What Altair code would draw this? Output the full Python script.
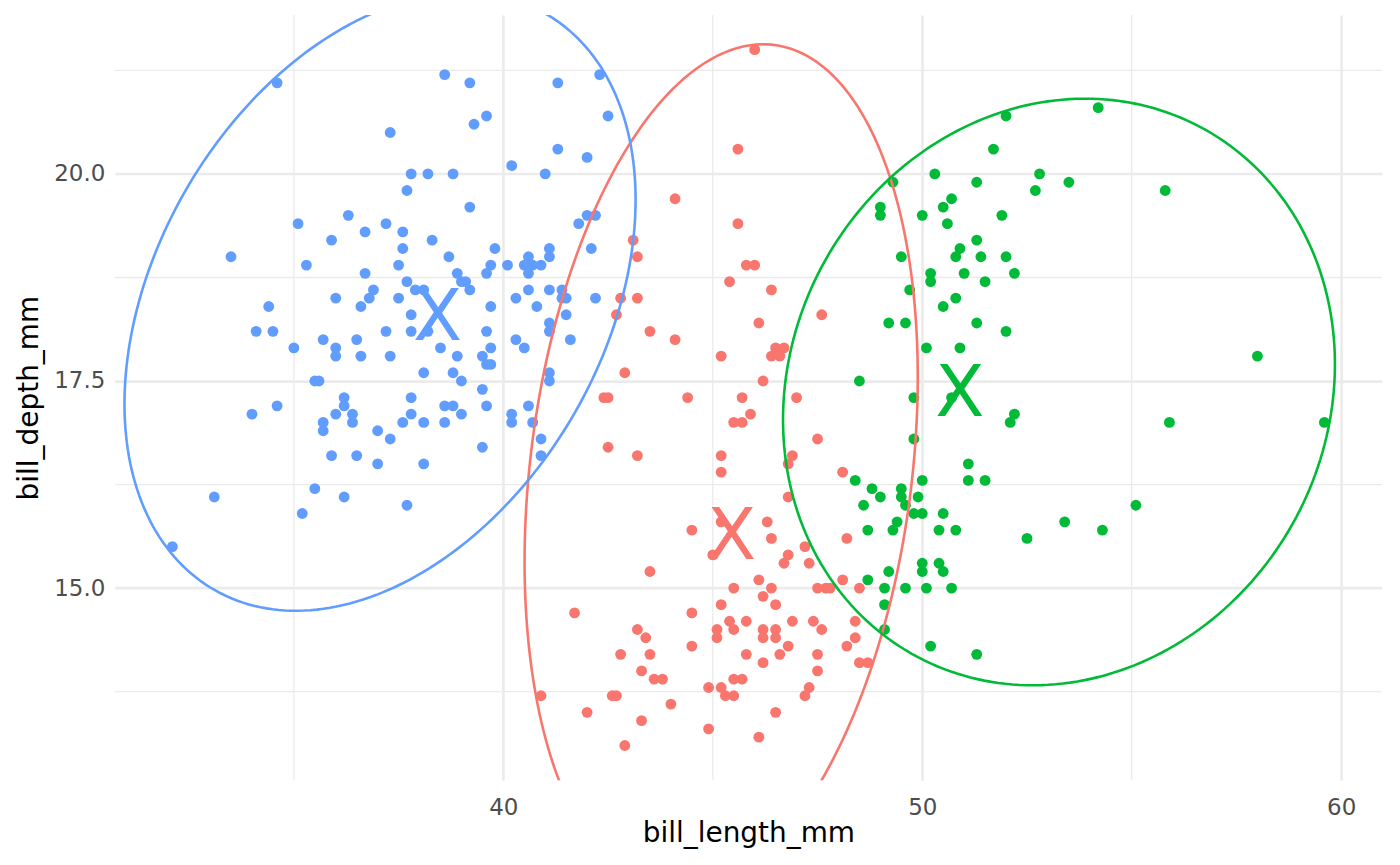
import numpy as np
import pandas as pd
import altair as alt

# ---- data (bill_length_mm, bill_depth_mm) ----
blue_x = [34.6, 37.3, 37.8, 38.2, 37.7, 35.1, 36.3, 37.2, 35.9, 36.7, 37.6, 37.6, 37.5, 38.3, 33.5, 35.3,
          38.6, 39.2, 41.3, 42.3, 39.6, 39.3, 42.5, 41.3, 42.0, 40.2, 38.8, 41.0, 39.2, 38.7, 39.8, 41.1, 41.1,
          40.6, 39.7, 40.1, 40.5, 40.7, 40.9, 41.8, 42.0, 42.2, 42.1,
          36.7, 37.7, 36.9, 36.8, 36.6, 36.0, 37.5, 37.9, 38.1, 37.8, 37.8, 38.2, 34.4, 34.1, 34.5, 35.0, 35.7,
          36.0, 36.0, 36.5, 36.6, 37.2, 37.3, 38.1, 35.5, 35.6, 34.6, 34.0, 36.2, 36.2, 36.0, 36.4, 36.4, 35.7,
          35.7, 37.0, 37.3, 37.8, 37.8, 37.6, 38.1, 35.9, 36.5, 37.0, 38.1, 35.5, 36.2, 33.1, 37.7, 35.2,
          32.1,
          38.9, 39.6, 40.6, 39.0, 39.1, 39.2, 39.7, 40.3, 40.6, 41.1, 40.8, 41.4, 41.4, 41.5, 41.5, 42.2, 41.1,
          41.1, 41.6, 39.6, 40.3, 40.5, 38.5, 38.9, 39.7, 39.5, 39.6, 39.7, 38.8, 39.0, 39.5, 41.1, 41.1, 38.6,
          38.8, 39.0, 38.6, 39.6, 40.2, 40.2, 40.6, 40.7, 40.9, 40.9, 39.5]
blue_y = [21.1, 20.5, 20.0, 20.0, 19.8, 19.4, 19.5, 19.4, 19.2, 19.3, 19.3, 19.1, 18.9, 19.2, 19.0, 18.9,
          21.2, 21.1, 21.1, 21.2, 20.7, 20.6, 20.7, 20.3, 20.2, 20.1, 20.0, 20.0, 19.6, 19.0, 19.1, 19.1, 19.0,
          19.0, 18.9, 18.9, 18.9, 18.9, 18.9, 19.4, 19.5, 19.5, 19.1,
          18.8, 18.7, 18.6, 18.5, 18.4, 18.5, 18.5, 18.6, 18.6, 18.3, 18.1, 18.1, 18.4, 18.1, 18.1, 17.9, 18.0,
          17.9, 17.8, 18.0, 17.8, 18.1, 17.8, 17.6, 17.5, 17.5, 17.2, 17.1, 17.3, 17.2, 17.1, 17.1, 17.0, 17.0,
          16.9, 16.9, 16.8, 17.3, 17.1, 17.0, 17.0, 16.6, 16.6, 16.5, 16.5, 16.2, 16.1, 16.1, 16.0, 15.9,
          15.5,
          18.8, 18.8, 18.8, 18.7, 18.7, 18.6, 18.4, 18.5, 18.6, 18.6, 18.4, 18.6, 18.5, 18.5, 18.3, 18.5, 18.2,
          18.1, 18.0, 18.1, 18.0, 17.9, 17.9, 17.8, 17.9, 17.8, 17.7, 17.7, 17.6, 17.5, 17.4, 17.6, 17.5, 17.2,
          17.2, 17.1, 17.0, 17.2, 17.1, 17.0, 17.2, 17.0, 16.8, 16.6, 16.7]

red_x = [46.0, 45.6, 44.1, 45.6, 43.1, 43.2, 45.8, 46.0,
         42.8, 43.2, 42.7, 43.5, 44.1, 45.4, 45.2, 42.9, 42.4, 42.5, 44.4, 45.7, 45.9, 45.5, 45.7, 42.5, 43.2,
         45.2, 45.2,
         46.1, 46.4, 47.6, 46.5, 46.7, 46.4, 46.6, 46.2, 47.0, 47.5, 46.9, 46.8, 48.1, 46.8, 46.3,
         44.5, 45.0, 45.2, 43.5, 45.5, 41.7, 44.5, 45.2, 45.4, 45.5, 45.8, 45.1, 45.1, 43.2, 43.4, 42.8, 43.5,
         44.5, 45.8, 43.3, 43.6, 43.8, 45.5, 45.7, 44.9, 45.2, 45.3, 45.5, 42.6, 42.7, 40.9, 44.0, 42.0, 43.3,
         44.9, 42.9,
         46.4, 48.2, 47.2, 46.8, 46.7, 47.3, 46.1, 48.1, 46.4, 47.5, 47.7, 47.8, 48.5, 46.2, 46.5, 46.9, 47.4,
         47.6, 48.4, 46.2, 46.5, 46.2, 46.5, 48.4, 48.2, 46.8, 46.6, 46.2, 47.5, 47.5, 48.5, 48.7, 47.3, 47.2,
         46.5, 46.1]
red_y = [21.5, 20.3, 19.7, 19.4, 19.2, 19.0, 18.9, 18.9,
         18.5, 18.5, 18.3, 18.1, 18.0, 18.7, 17.8, 17.6, 17.3, 17.3, 17.3, 17.3, 17.1, 17.0, 17.0, 16.7, 16.6,
         16.6, 16.4,
         18.2, 18.6, 18.3, 17.9, 17.9, 17.8, 17.8, 17.5, 17.3, 16.8, 16.6, 16.5, 16.4, 16.1, 15.8,
         15.7, 15.4, 15.8, 15.2, 15.0, 14.7, 14.7, 14.8, 14.6, 14.5, 14.6, 14.5, 14.4, 14.5, 14.4, 14.2, 14.2,
         14.3, 14.2, 14.0, 13.9, 13.9, 13.9, 13.9, 13.8, 13.8, 13.7, 13.7, 13.7, 13.7, 13.7, 13.6, 13.5, 13.4,
         13.3, 13.1,
         15.6, 15.6, 15.5, 15.4, 15.3, 15.3, 15.1, 15.1, 15.0, 15.0, 15.0, 15.0, 15.0, 14.9, 14.8, 14.6, 14.6,
         14.5, 14.6, 14.5, 14.5, 14.4, 14.4, 14.4, 14.3, 14.3, 14.2, 14.1, 14.2, 14.0, 14.1, 14.1, 13.8, 13.7,
         13.5, 13.2]

green_x = [52.0, 51.7, 49.3, 50.3, 51.3, 52.8, 52.7, 53.5, 50.7, 50.5, 49.0, 49.0, 50.0, 50.6, 51.9, 51.3,
           50.9, 50.8, 51.4, 52.0, 49.5,
           54.2, 55.8,
           50.2, 50.2, 51.0, 52.2, 51.5, 49.7, 50.8, 50.5, 49.2, 49.6, 51.3, 52.0, 50.1, 50.9, 48.5, 49.8, 50.7,
           52.2, 52.1, 49.8, 51.1, 51.1, 51.5, 48.4, 48.8, 49.0, 49.5, 49.5, 49.9, 50.0, 48.6, 49.6, 49.8, 50.0,
           50.5, 49.4, 53.4, 48.7, 49.3, 50.4, 50.8,
           58.0, 55.9, 59.6, 55.1, 54.3, 52.5,
           48.7, 49.2, 49.1, 49.6, 50.1, 50.7, 50.0, 50.0, 50.4, 50.5, 49.1, 49.1, 50.2, 51.3]
green_y = [20.7, 20.3, 19.9, 20.0, 19.9, 20.0, 19.8, 19.9, 19.7, 19.6, 19.6, 19.5, 19.5, 19.4, 19.5, 19.2,
           19.1, 19.0, 19.0, 19.0, 19.0,
           20.8, 19.8,
           18.8, 18.7, 18.8, 18.8, 18.7, 18.6, 18.5, 18.4, 18.2, 18.2, 18.2, 18.1, 17.9, 17.9, 17.5, 17.3, 17.3,
           17.1, 17.0, 16.8, 16.5, 16.3, 16.3, 16.3, 16.2, 16.1, 16.2, 16.1, 16.1, 16.3, 16.0, 16.0, 15.9, 15.9,
           15.9, 15.8, 15.8, 15.7, 15.7, 15.7, 15.7,
           17.8, 17.0, 17.0, 16.0, 15.7, 15.6,
           15.1, 15.2, 15.0, 15.0, 15.0, 15.0, 15.3, 15.2, 15.3, 15.2, 14.8, 14.5, 14.3, 14.2]

clusters = ["1", "2", "3"]
cluster_colors = ["#F8766D", "#00BA38", "#619CFF"]

# k-means centres
centre_cluster = ["1", "2", "3"]
centre_x = [45.45, 50.90, 38.43]
centre_y = [15.62, 17.34, 18.26]

x_ticks = [40, 50, 60]
y_ticks = [15.0, 17.5, 20.0]
x_minor = [35, 45, 55]
y_minor = [13.75, 16.25, 18.75, 21.25]

PLOT_W, PLOT_H = 1270, 767
EXPAND_PX = 5  # outward margin of the mark ellipses, in pixels

# ---- assemble tables ----
pts = pd.concat([
    pd.DataFrame({"bill_length_mm": red_x, "bill_depth_mm": red_y, "cluster": "1"}),
    pd.DataFrame({"bill_length_mm": green_x, "bill_depth_mm": green_y, "cluster": "2"}),
    pd.DataFrame({"bill_length_mm": blue_x, "bill_depth_mm": blue_y, "cluster": "3"}),
], ignore_index=True)

# ggplot-like expansion of 5 % on the point range
xr = (pts.bill_length_mm.min(), pts.bill_length_mm.max())
yr = (pts.bill_depth_mm.min(), pts.bill_depth_mm.max())
xdom = [xr[0] - 0.05 * (xr[1] - xr[0]), xr[1] + 0.05 * (xr[1] - xr[0])]
ydom = [yr[0] - 0.05 * (yr[1] - yr[0]), yr[1] + 0.05 * (yr[1] - yr[0])]
kx = PLOT_W / (xdom[1] - xdom[0])
ky = PLOT_H / (ydom[1] - ydom[0])


def enclosing_ellipse(P, tol=1e-6, maxit=50000):
    """Minimum-volume enclosing ellipse (Khachiyan)."""
    N, d = P.shape
    Q = np.vstack([P.T, np.ones(N)])
    u = np.ones(N) / N
    for _ in range(maxit):
        X = (Q * u) @ Q.T
        M = np.einsum("ij,ji->i", Q.T @ np.linalg.inv(X), Q)
        j = int(np.argmax(M))
        mx = M[j]
        step = (mx - d - 1) / ((d + 1) * (mx - 1))
        nu = (1 - step) * u
        nu[j] += step
        err = np.linalg.norm(nu - u)
        u = nu
        if err < tol:
            break
    c = P.T @ u
    A = np.linalg.inv((P.T * u) @ P - np.outer(c, c)) / d
    return c, A


def ellipse_path(df, n=240):
    P = df[["bill_length_mm", "bill_depth_mm"]].to_numpy(float)
    c, A = enclosing_ellipse(P)
    lam, V = np.linalg.eigh(A)
    t = np.linspace(0, 2 * np.pi, n + 1)
    circ = np.vstack([np.cos(t), np.sin(t)])
    e = (V @ np.diag(1 / np.sqrt(lam)) @ circ).T + c
    # expand outward by a fixed screen distance
    px = np.column_stack([e[:, 0] * kx, e[:, 1] * ky])
    cp = np.array([c[0] * kx, c[1] * ky])
    tang = np.roll(px, -1, axis=0) - np.roll(px, 1, axis=0)
    tang[0] = px[1] - px[-2]
    tang[-1] = tang[0]
    nrm = np.column_stack([tang[:, 1], -tang[:, 0]])
    nrm /= np.linalg.norm(nrm, axis=1)[:, None]
    sign = np.sign(((px - cp) * nrm).sum(axis=1))[:, None]
    px = px + EXPAND_PX * sign * nrm
    return pd.DataFrame({"ex": px[:, 0] / kx, "ey": px[:, 1] / ky, "k": np.arange(n + 1)})


ell = []
for c in clusters:
    d = ellipse_path(pts[pts.cluster == c])
    d["cluster"] = c
    ell.append(d)
ell = pd.concat(ell, ignore_index=True)

centres = pd.DataFrame({"cx": centre_x, "cy": centre_y, "cluster": centre_cluster})

xs = alt.Scale(domain=xdom, nice=False, zero=False)
ys = alt.Scale(domain=ydom, nice=False, zero=False)
cs = alt.Scale(domain=clusters, range=cluster_colors)

FONT = "DejaVu Sans"
GRID = "#EBEBEB"

xaxis = alt.Axis(values=x_ticks, format="d", grid=True, gridColor=GRID, gridWidth=2.6,
                 ticks=False, domain=False, labelColor="#4D4D4D", labelFontSize=23,
                 labelFont=FONT, labelPadding=16, title="bill_length_mm", titleFont=FONT,
                 titleFontSize=28, titleFontWeight="normal", titleColor="black", titlePadding=0)
yaxis = alt.Axis(values=y_ticks, format=".1f", grid=True, gridColor=GRID, gridWidth=2.6,
                 ticks=False, domain=False, labelColor="#4D4D4D", labelFontSize=23,
                 labelFont=FONT, labelPadding=10, title="bill_depth_mm", titleFont=FONT,
                 titleFontSize=28, titleFontWeight="normal", titleColor="black", titlePadding=10)

minor_v = alt.Chart(pd.DataFrame({"v": x_minor})).mark_rule(color=GRID, strokeWidth=1.3).encode(
    x=alt.X("v:Q", scale=xs, axis=xaxis))
minor_h = alt.Chart(pd.DataFrame({"h": y_minor})).mark_rule(color=GRID, strokeWidth=1.3).encode(
    y=alt.Y("h:Q", scale=ys, axis=yaxis))

points = alt.Chart(pts).mark_circle(size=118, opacity=1).encode(
    x=alt.X("bill_length_mm:Q", scale=xs, axis=xaxis),
    y=alt.Y("bill_depth_mm:Q", scale=ys, axis=yaxis),
    color=alt.Color("cluster:N", scale=cs, legend=None),
)

ellipses = alt.Chart(ell).mark_line(strokeWidth=2.6, clip=True).encode(
    x=alt.X("ex:Q", scale=xs, axis=xaxis),
    y=alt.Y("ey:Q", scale=ys, axis=yaxis),
    color=alt.Color("cluster:N", scale=cs, legend=None),
    order="k:Q",
    detail="cluster:N",
)

marks = alt.Chart(centres).mark_text(text="X", font=FONT, fontSize=72, align="center",
                                     baseline="middle").encode(
    x=alt.X("cx:Q", scale=xs, axis=xaxis),
    y=alt.Y("cy:Q", scale=ys, axis=yaxis),
    color=alt.Color("cluster:N", scale=cs, legend=None),
)

chart = alt.layer(minor_v, minor_h, points, ellipses, marks).properties(
    width=PLOT_W, height=PLOT_H,
    autosize=alt.AutoSizeParams(type="none"),
    padding={"left": 107, "top": 6, "right": 10, "bottom": 80},
    background="white",
).configure_view(stroke=None)

chart.save("out.html", embed_options={"renderer": "svg", "actions": False})
